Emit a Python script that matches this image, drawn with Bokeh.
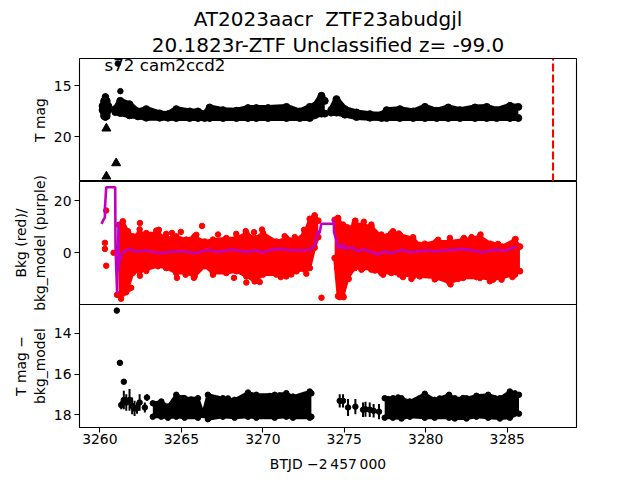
from bokeh.plotting import figure
from bokeh.layouts import column
from bokeh.models import Range1d, FixedTicker, Label, Title
from bokeh.embed import file_html
from bokeh.resources import INLINE

TITLE_1 = "AT2023aacr\u00a0\u00a0ZTF23abudgjl"
TITLE_2 = "20.1823r-ZTF Unclassified z= -99.0"
SECTOR_TEXT = "s72 cam2ccd2"
XLABEL = "BTJD \u22122\u2009457\u2009000"
YLABEL_1 = "T mag"
YLABEL_2 = "Bkg (red)/\nbkg_model (purple)"
YLABEL_3 = "T mag \u2212\nbkg_model"
X_TICKS = [3260, 3265, 3270, 3275, 3280, 3285]
Y_TICKS_1 = [15, 20]
Y_TICKS_2 = [0, 20]
Y_TICKS_3 = [14, 16, 18]
EVENT_T = 3287.81

# Panel 1: brightness envelope of the dense clouds, and isolated points
mag_blob_t = [3260.15, 3260.25, 3260.34, 3260.43, 3260.53]
mag_blob_top = [17.0, 16.5, 16.1, 16.5, 17.0]
mag_blob_bot = [17.4, 18.0, 18.1, 18.0, 17.4]
mag_a_t = [3260.95, 3261.25, 3261.82, 3262.34, 3262.85, 3263.67, 3264.18, 3264.69, 3265.51, 3266.02, 3266.43, 3266.74, 3267.56, 3268.38, 3269.09, 3269.6, 3270.32, 3271.45, 3272.27, 3272.88, 3273.19, 3273.6, 3273.8]
mag_a_top = [17.3, 16.5, 16.83, 17.54, 17.31, 17.73, 17.8, 17.31, 17.54, 17.54, 17.8, 17.15, 17.41, 17.47, 17.21, 17.21, 17.21, 17.09, 17.54, 17.09, 16.99, 16.0, 16.5]
mag_a_bot = [17.6, 17.69, 17.92, 18.02, 18.15, 18.15, 18.15, 18.18, 18.18, 18.18, 18.18, 18.18, 18.18, 18.18, 18.18, 18.18, 18.18, 18.18, 18.18, 18.18, 17.92, 17.75, 17.75]
mag_b_t = [3274.2, 3274.52, 3275.04, 3275.75, 3276.57, 3277.29, 3277.6, 3278.41, 3279.23, 3279.95, 3280.67, 3281.38, 3282.1, 3283.02, 3283.74, 3284.35, 3285.17, 3285.68]
mag_b_top = [17.4, 16.33, 17.31, 17.64, 17.8, 17.87, 17.41, 17.31, 17.54, 17.09, 17.47, 17.15, 17.41, 17.15, 17.09, 17.41, 16.99, 17.09]
mag_b_bot = [17.65, 17.65, 17.85, 18.08, 18.15, 18.18, 18.18, 18.18, 18.18, 18.18, 18.18, 18.18, 18.18, 18.18, 18.18, 18.18, 18.18, 18.18]
mag_lim_t = [3260.4, 3261.0, 3260.4]
mag_lim_y = [19.2, 22.6, 23.9]
mag_det_t = [3261.1, 3261.26]
mag_det_y = [12.85, 15.55]

# Panel 2: background envelope, isolated points and model line
bkg_a_t = [3261.17, 3261.41, 3261.72, 3262.03, 3262.44, 3262.85, 3263.56, 3264.07, 3264.69, 3265.3, 3265.81, 3266.43, 3266.94, 3267.76, 3268.38, 3268.99, 3269.5, 3270.01, 3270.83, 3271.44, 3272.06, 3272.57, 3272.88, 3273.18, 3273.4]
bkg_a_top = [10.7, 12.0, 8.2, 6.25, 7.5, 7.5, 7.5, 5.6, 6.25, 5.0, 6.25, 4.3, 5.0, 5.6, 5.6, 7.5, 5.6, 7.5, 4.3, 5.6, 5.0, 7.5, 13.0, 14.3, 12.3]
bkg_a_bot = [-16.0, -15.6, -13.6, -7.6, -7.05, -6.4, -5.1, -5.8, -7.7, -7.7, -9.0, -5.1, -7.7, -7.7, -7.05, -9.0, -10.9, -8.3, -8.3, -9.0, -7.05, -6.4, -5.8, 2.0, 6.0]
bkg_b_t = [3274.41, 3274.62, 3274.92, 3275.23, 3275.64, 3276.15, 3276.66, 3277.28, 3277.89, 3278.4, 3279.22, 3279.63, 3280.65, 3281.47, 3282.29, 3283.32, 3284.14, 3284.65, 3285.47, 3285.78]
bkg_b_top = [12.6, 13.3, 10.1, 8.8, 11.35, 10.7, 10.1, 6.25, 7.5, 6.9, 5.6, 3.0, 4.3, 4.3, 5.0, 6.25, 3.0, 2.4, 5.0, 2.4]
bkg_b_bot = [-2.0, -16.6, -16.6, -9.6, -5.8, -5.8, -6.4, -7.7, -7.7, -8.3, -9.0, -9.0, -9.6, -11.5, -9.6, -9.6, -10.2, -9.6, -8.3, -7.05]
bkg_iso_t = [3260.39, 3260.31, 3260.31, 3260.39, 3260.84, 3261.05, 3261.3, 3262.46, 3266.27, 3273.6, 3274.55, 3274.6, 3275.68, 3276.2, 3276.66]
bkg_iso_y = [16.2, 3.8, 1.5, -4.97, 0.0, -16.1, -17.6, 11.4, 10.3, -17.2, -5.8, 13.3, 12.3, 11.9, 10.8]
bkg_edge_t = [3262.44, 3263.46, 3263.62, 3264.07, 3264.42, 3264.97, 3265.92, 3267.25, 3268.37, 3268.95, 3269.46, 3269.95, 3271.34, 3271.96, 3272.53,
              3262.46, 3262.85, 3264.73, 3265.26, 3265.77, 3266.94, 3268.23, 3268.99, 3269.66, 3269.81, 3271.1, 3271.75, 3272.67, 3261.78, 3261.62, 3261.92,
              3274.92, 3275.17, 3275.66, 3277.28, 3277.99, 3278.34, 3278.85, 3279.22, 3279.94, 3280.76, 3281.48, 3282.34, 3282.81, 3283.36, 3283.97, 3284.44, 3285.51,
              3274.72, 3274.96, 3275.27, 3276.05, 3276.87, 3277.38, 3278.6, 3279.12, 3280.55, 3281.52, 3281.99, 3283.11, 3283.93, 3284.65, 3285.32]
bkg_edge_y = [9.0, 8.5, 8.8, 7.25, 7.6, 8.0, 6.9, 7.0, 7.25, 8.3, 7.9, 8.9, 6.35, 6.0, 8.8,
              -8.8, -7.0, -9.6, -8.4, -9.6, -8.4, -9.6, -11.4, -10.3, -11.2, -9.3, -8.3, -8.0, -13.8, -15.1, -13.4,
              10.8, 9.8, 12.2, 7.0, 8.25, 7.4, 5.25, 5.95, 3.5, 5.0, 5.7, 5.7, 6.0, 7.0, 3.5, 3.4, 5.3,
              -17.0, -17.0, -10.0, -6.5, -6.8, -8.4, -9.3, -10.0, -10.2, -12.1, -10.0, -9.3, -10.9, -10.3, -9.3]
model_t = [3260.10, 3260.18, 3260.31, 3260.31, 3260.39, 3260.94, 3260.96, 3261.06, 3261.15, 3261.15, 3261.21, 3261.41, 3261.82, 3262.23, 3262.85, 3263.66, 3264.48, 3265.3, 3265.81, 3266.63, 3267.35, 3268.07, 3268.99, 3269.6, 3269.91, 3270.83, 3271.44, 3272.06, 3272.88, 3273.18, 3273.39, 3273.44, 3273.49, 3273.59, 3274.35, 3274.35, 3274.37, 3274.55, 3274.66, 3274.92, 3275.03, 3275.44, 3275.84, 3276.15, 3276.56, 3277.07, 3277.48, 3277.79, 3278.61, 3279.02, 3280.04, 3280.66, 3282.29, 3283.52, 3284.14, 3284.96, 3285.57]
model_y = [11.1, 12.1, 13.6, 16.8, 25.1, 25.1, 2.15, -15.7, 11.7, -6.8, -2.95, 0.2, 1.5, 0.5, 0.9, -0.15, 0.5, 0.5, -0.15, 1.1, 0.35, 1.25, 0.35, 0.9, 0.1, 1.5, 1.25, 0.9, 1.1, 2.8, 8.5, 7.25, 7.9, 11.1, 11.1, 13.0, 7.9, 4.0, 1.5, 3.4, 1.5, 2.15, 0.5, 1.25, 0.6, -0.65, 0.6, -0.15, 1.1, 0.2, 0.9, 0.6, 1.5, 0.2, 1.1, 0.9, 2.4]

# Panel 3: difference magnitude, sparse whiskers and dense envelopes
diff_sparse_t = [3261.31, 3261.47, 3261.62, 3261.82, 3261.98, 3262.13, 3262.28, 3262.44, 3262.76, 3262.89, 3274.72, 3274.92, 3275.23, 3275.68, 3276.15, 3276.3, 3276.56, 3276.8, 3277.13]
diff_sparse_top = [17.32, 16.82, 16.99, 16.74, 17.15, 17.32, 17.4, 16.99, 17.4, 16.99, 16.99, 16.99, 17.23, 17.23, 17.4, 17.36, 17.4, 17.48, 17.48]
diff_sparse_bot = [17.73, 17.73, 17.81, 17.81, 17.98, 18.06, 17.95, 17.81, 17.89, 17.32, 17.65, 17.65, 18.06, 17.98, 18.11, 18.1, 18.11, 18.14, 18.22]
diff_a_t = [3263.25, 3263.77, 3264.18, 3264.69, 3265.2, 3266.02, 3266.33, 3266.63, 3267.55, 3268.27, 3269.09, 3269.6, 3270.73, 3271.44, 3271.85, 3272.88, 3272.98]
diff_a_top = [17.44, 17.35, 17.6, 17.02, 17.19, 17.19, 17.93, 17.02, 17.19, 17.27, 16.91, 17.02, 17.02, 16.94, 17.11, 16.86, 16.95]
diff_a_bot = [18.1, 18.1, 18.15, 18.1, 18.15, 18.15, 18.02, 18.22, 18.1, 18.15, 18.1, 18.15, 18.15, 18.1, 18.15, 18.15, 18.1]
diff_b_t = [3277.48, 3277.99, 3278.51, 3279.02, 3279.94, 3280.55, 3281.43, 3281.78, 3282.5, 3283.11, 3283.83, 3284.55, 3285.16, 3285.72]
diff_b_top = [17.19, 17.19, 17.19, 17.35, 16.97, 17.27, 17.02, 17.19, 17.19, 17.07, 17.02, 17.19, 16.86, 17.02]
diff_b_bot = [18.15, 18.15, 18.19, 18.1, 18.15, 18.15, 18.15, 18.19, 18.19, 18.1, 18.15, 18.19, 18.15, 17.95]
diff_edge_t = [3265.1, 3265.61, 3267.04, 3267.86, 3268.78, 3270.11, 3270.42, 3271.03, 3272.26, 3272.57, 3277.69, 3278.3, 3279.63, 3280.86, 3282.29, 3283.52, 3284.24, 3285.47]
diff_edge_y = [17.18, 17.25, 17.23, 17.2, 17.33, 17.2, 17.08, 17.05, 17.2, 17.1, 17.23, 17.15, 17.2, 17.2, 17.18, 17.25, 17.2, 16.95]
diff_iso_t = [3261.04, 3261.23, 3261.47]
diff_iso_y = [12.88, 15.45, 16.38]

FONT = "DejaVu Sans"
INK = "#000000"
RED = "#ff0000"
PURPLE = "#bf00bf"
xr = Range1d(3258.75, 3289.25)


def panel(yrange, ticks, ylabel, top, bottom, **kw):
    p = figure(frame_width=497, frame_height=123, x_range=xr, y_range=Range1d(*yrange),
               output_backend="svg", toolbar_location=None, min_border_left=79,
               min_border_right=50, min_border_top=top, min_border_bottom=bottom,
               background_fill_color=None, border_fill_color=None, **kw)
    p.grid.visible = False
    p.outline_line_color = INK
    p.outline_line_width = 1.1
    p.outline_line_alpha = 1
    y = p.yaxis[0]
    y.ticker = FixedTicker(ticks=ticks)
    y.axis_label = ylabel
    y.axis_label_text_font = FONT
    y.axis_label_text_font_size = "13.9px"
    y.axis_label_text_font_style = "normal"
    y.axis_label_text_color = INK
    y.axis_label_standoff = 3
    y.major_label_text_font = FONT
    y.major_label_text_font_size = "13.9px"
    y.major_label_text_color = INK
    y.major_label_standoff = 3
    y.major_tick_in = 0
    y.major_tick_out = 5
    y.major_tick_line_width = 1.1
    y.minor_tick_line_color = None
    y.axis_line_color = None
    return p


def cloud(p, t, upper, lower, width, dot, color):
    p.varea(t, upper, lower, fill_color=color, fill_alpha=1)
    for edge in (upper, lower):
        p.line(t, edge, line_color=color, line_width=width, line_join="round", line_cap="round")
        p.scatter(t, edge, marker="circle", size=dot, color=color)


p1 = panel((24.4, 12.35), Y_TICKS_1, YLABEL_1, 58, 0)
p2 = panel((-19.8, 27.3), Y_TICKS_2, YLABEL_2, 12, 12, margin=(-12, 0, -12, 0))
p3 = panel((18.63, 12.58), Y_TICKS_3, YLABEL_3, 0, 45)
p1.xaxis.visible = False
p2.xaxis.visible = False

# Panel 1
cloud(p1, mag_blob_t, mag_blob_top, mag_blob_bot, 6, 6.5, INK)
cloud(p1, mag_a_t, mag_a_top, mag_a_bot, 6, 7, INK)
cloud(p1, mag_b_t, mag_b_top, mag_b_bot, 6, 7, INK)
p1.scatter(mag_lim_t, mag_lim_y, marker="triangle", size=9, color=INK)
p1.scatter(mag_det_t, mag_det_y, marker="circle", size=5.5, color=INK)
p1.line([EVENT_T, EVENT_T], [24.4, 12.35], line_color=RED, line_width=2.1, line_dash="8 3")
p1.add_layout(Label(x=3260.29, y=13.0, text=SECTOR_TEXT, text_font=FONT, text_font_size="16.67px",
                    text_color=INK, text_baseline="alphabetic"))
for line_text, line_gap in zip([TITLE_2, TITLE_1], [4, -4]):
    p1.add_layout(Title(text=line_text, align="center", text_font=FONT, text_font_size="20px",
                        text_font_style="normal", text_color=INK, standoff=line_gap), "above")

# Panel 2
cloud(p2, bkg_a_t, bkg_a_top, bkg_a_bot, 3, 5.8, RED)
cloud(p2, bkg_b_t, bkg_b_top, bkg_b_bot, 3, 5.8, RED)
p2.scatter(bkg_iso_t, bkg_iso_y, marker="circle", size=5.5, color=RED)
p2.scatter(bkg_edge_t, bkg_edge_y, marker="circle", size=5.5, color=RED)
p2.line(model_t, model_y, line_color=PURPLE, line_width=2.6)

# Panel 3
p3.segment(diff_sparse_t, diff_sparse_top, diff_sparse_t, diff_sparse_bot, line_color=INK, line_width=2)
p3.scatter(diff_sparse_t, [(a + b) / 2 for a, b in zip(diff_sparse_top, diff_sparse_bot)],
           marker="circle", size=5.5, color=INK)
cloud(p3, diff_a_t, diff_a_top, diff_a_bot, 3, 5.5, INK)
cloud(p3, diff_b_t, diff_b_top, diff_b_bot, 3, 5.5, INK)
p3.scatter(diff_edge_t, diff_edge_y, marker="circle", size=5.5, color=INK)
p3.scatter(diff_iso_t, diff_iso_y, marker="circle", size=5.5, color=INK)
x = p3.xaxis[0]
x.ticker = FixedTicker(ticks=X_TICKS)
x.axis_label = XLABEL
x.axis_label_text_font = FONT
x.axis_label_text_font_size = "13.9px"
x.axis_label_text_font_style = "normal"
x.axis_label_text_color = INK
x.axis_label_standoff = 9
x.major_label_text_font = FONT
x.major_label_text_font_size = "13.9px"
x.major_label_text_color = INK
x.major_label_standoff = 1
x.major_tick_in = 0
x.major_tick_out = 5
x.major_tick_line_width = 1.1
x.minor_tick_line_color = None
x.axis_line_color = None

page = column(p1, p2, p3, spacing=0)
open("out.html", "w").write(file_html(page, INLINE))
